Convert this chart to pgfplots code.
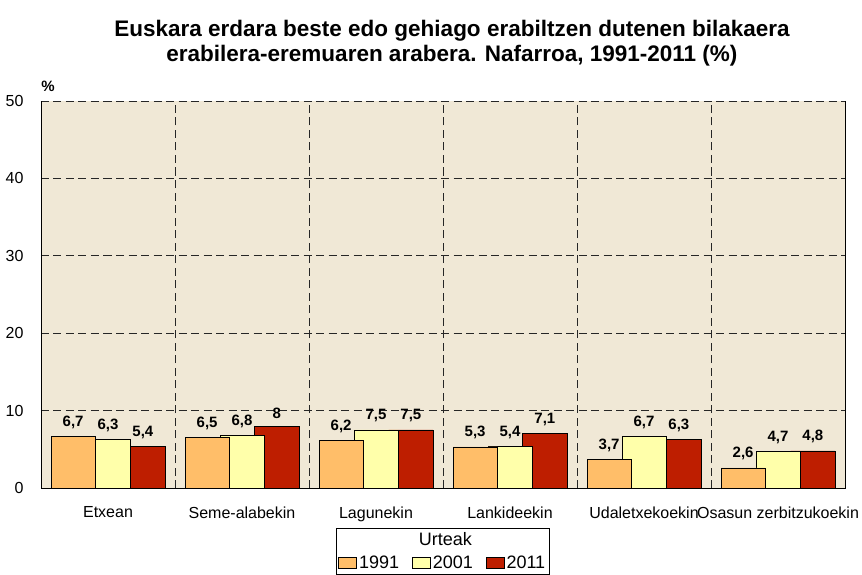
\documentclass[border=0pt]{standalone}
\usepackage{fontspec}
\setmainfont{Liberation Sans}
\usepackage{pgfplots}
\pgfplotsset{compat=1.18}

\definecolor{plotbg}{RGB}{240,232,214}
\definecolor{c1991}{RGB}{255,190,105}
\definecolor{c2001}{RGB}{255,255,170}
\definecolor{c2011}{RGB}{190,30,0}

% values per category: Etxean, Seme-alabekin, Lagunekin, Lankideekin, Udaletxekoekin, Osasun zerbitzukoekin
\pgfplotsset{
  barstyle/.style={ybar, bar width=0.33, draw=black, line width=0.7pt},
  legsq/.style={legend image code/.code={\draw[##1, draw=black, line width=0.7pt] (0pt,-5pt) rectangle (18pt,6pt);}},
}

\begin{document}
\begin{tikzpicture}
\useasboundingbox (0,0) rectangle (862pt,574pt);
\node[align=center, font=\bfseries\fontsize{22.5}{25}\selectfont] at (452pt,531pt)
  {Euskara erdara beste edo gehiago erabiltzen dutenen bilakaera\\erabilera-eremuaren arabera. Nafarroa, 1991-2011 (\%)};
\begin{axis}[
  at={(41pt,86pt)}, anchor=south west,
  scale only axis, width=804pt, height=387pt,
  xmin=-0.5, xmax=5.5, ymin=0, ymax=50,
  axis background/.style={fill=plotbg},
  axis line style={draw=none},
  ytick={0,10,...,50},
  xtick={0,...,5},
  xticklabels={Etxean,Seme-alabekin,Lagunekin,Lankideekin,Udaletxekoekin,Osasun zerbitzukoekin},
  major tick length=0pt,
  ymajorgrids,
  grid style={black!85, dash pattern=on 8pt off 4.5pt, line width=0.7pt},
  extra x ticks={0.5,1.5,2.5,3.5,4.5},
  extra x tick labels={},
  extra x tick style={grid=major},
  /pgf/number format/assume math mode=true,
  tick label style={font=\fontsize{16}{19}\selectfont},
  yticklabel style={xshift=-14pt},
  xticklabel style={yshift=-15pt},
  nodes near coords,
  nodes near coords style={font=\bfseries\fontsize{15}{18}\selectfont, /pgf/number format/use comma, yshift=4pt},
  legend columns=3,
  legend style={at={(rel axis cs:0.3669,-0.1034)}, anchor=north west, draw=black, line width=0.7pt,
    font=\fontsize{18}{21}\selectfont, inner sep=2pt, row sep=5pt,
    /tikz/every even column/.append style={column sep=11pt}},
  legend cell align=left,
  after end axis/.code={
    \draw[black, line width=0.9pt] (rel axis cs:0,1) -- (rel axis cs:0,0) -- (rel axis cs:1,0) -- (rel axis cs:1,1);
    \node[anchor=south, font=\bfseries\fontsize{15}{18}\selectfont] at ([xshift=7pt,yshift=6pt]rel axis cs:0,1) {\%};
  },
]
\addlegendimage{empty legend}\addlegendentry{}
\addlegendimage{empty legend}\addlegendentry{\makebox[0pt][l]{\hspace{-14pt}Urteak}}
\addlegendimage{empty legend}\addlegendentry{}
\addlegendimage{legsq, fill=c1991}\addlegendentry{1991}
\addlegendimage{legsq, fill=c2001}\addlegendentry{2001}
\addlegendimage{legsq, fill=c2011}\addlegendentry{2011}

% drawn back to front: 2011, 2001, 1991
\addplot[barstyle, bar shift=0.26, fill=c2011, forget plot,
  every node near coord/.append style={xshift=34.9pt}] coordinates {
(0,5.4) (1,8) (2,7.5) (3,7.1) (4,6.3) (5,4.8)
};
\addplot[barstyle, bar shift=0, fill=c2001, forget plot] coordinates {
(0,6.3) (1,6.8) (2,7.5) (3,5.4) (4,6.7) (5,4.7)
};
\addplot[barstyle, bar shift=-0.26, fill=c1991, forget plot,
  every node near coord/.append style={xshift=-34.9pt}] coordinates {
(0,6.7) (1,6.5) (2,6.2) (3,5.3) (4,3.7) (5,2.6)
};
\end{axis}
\end{tikzpicture}
\end{document}
